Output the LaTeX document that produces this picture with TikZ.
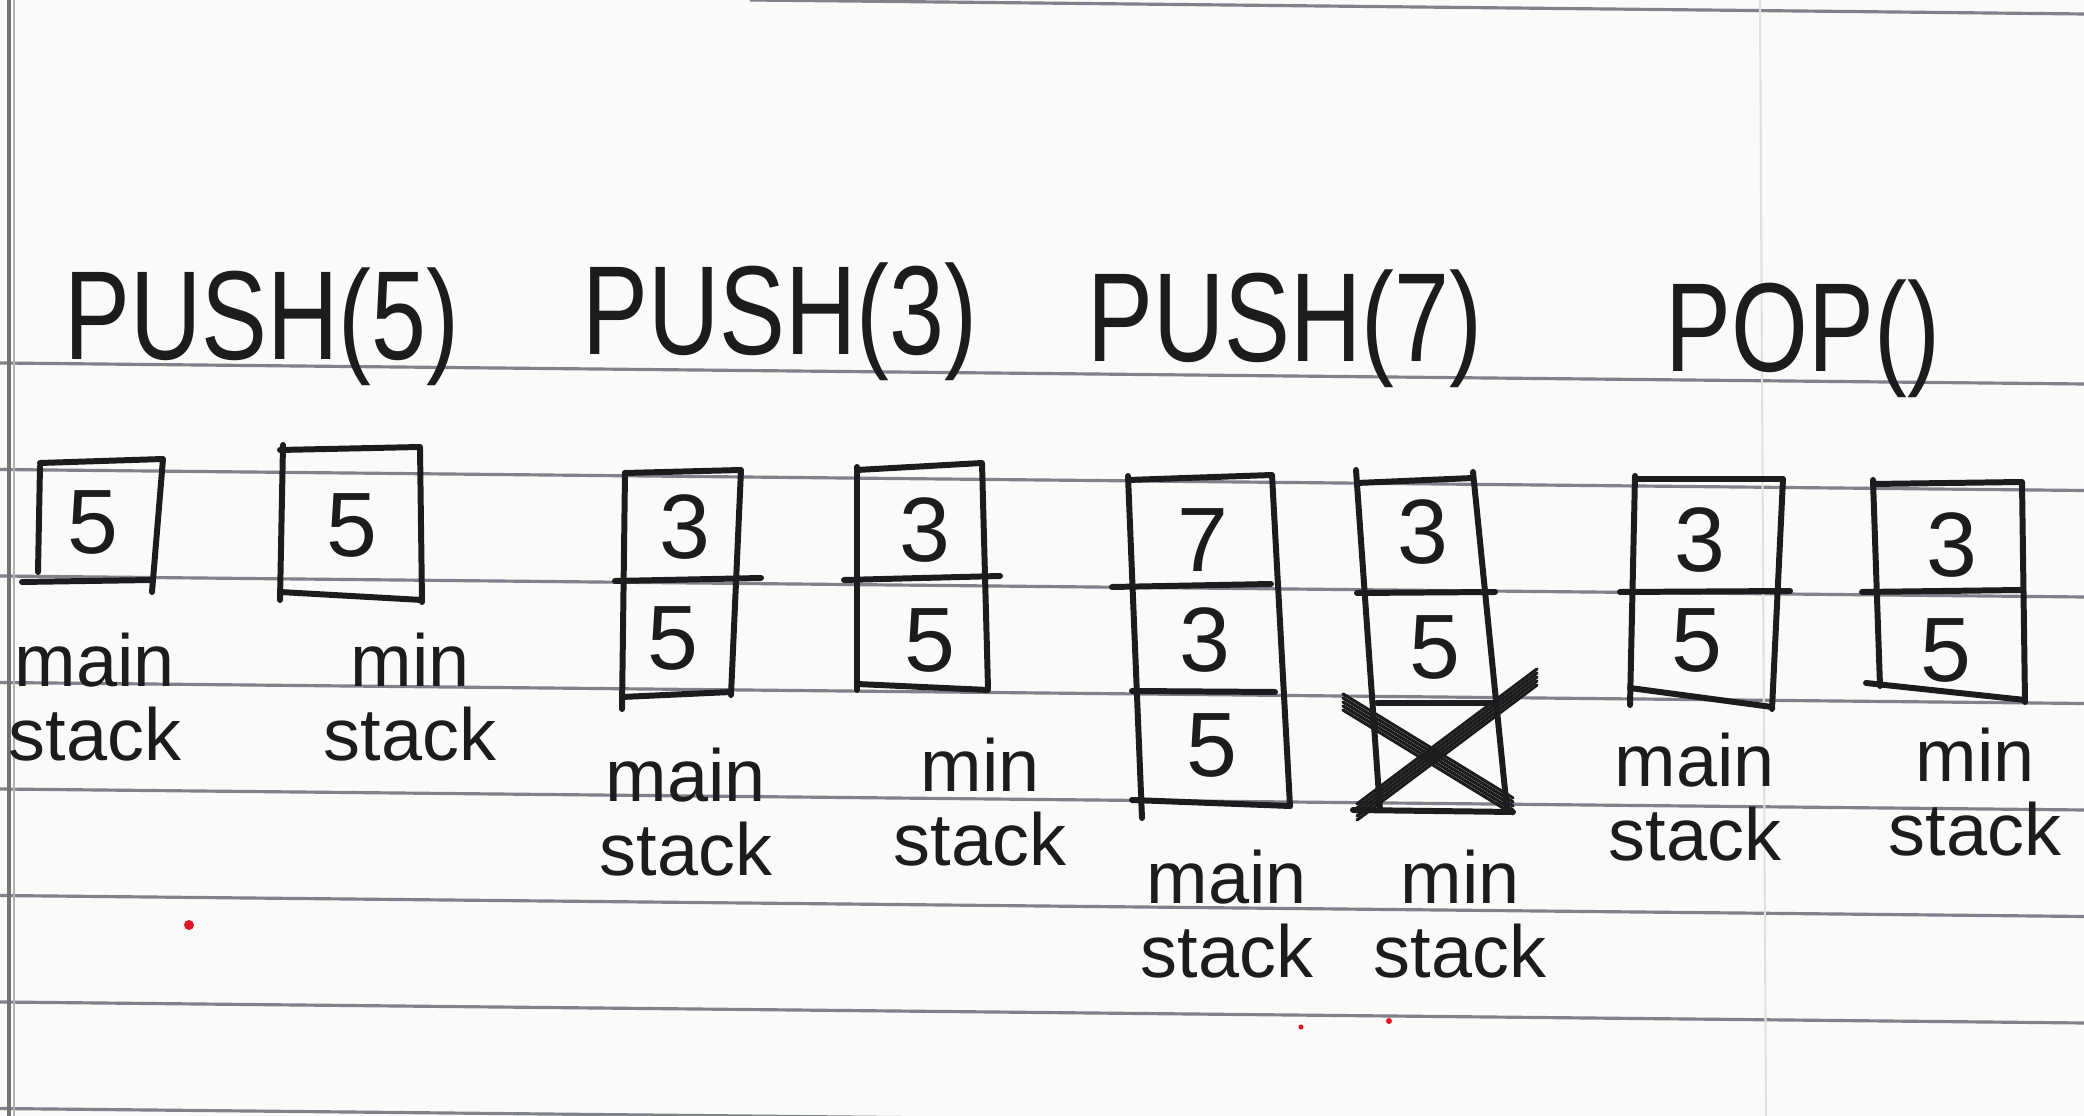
\documentclass[tikz,border=0pt]{standalone}
\usepackage{fontspec}
\setmainfont{Liberation Sans}
\usepackage{graphicx}
\usetikzlibrary{positioning}

\definecolor{paper}{RGB}{250,250,248}
\definecolor{rulegray}{RGB}{128,130,138}
\definecolor{inkc}{RGB}{28,28,30}
\definecolor{speck}{RGB}{225,20,40}

\begin{document}
\begin{tikzpicture}[
    x=0.01cm, y=-0.01cm,
    % Estilos de texto
    title/.style={font=\fontsize{36}{40}\selectfont, text=inkc, anchor=base, inner sep=0pt},
    digit/.style={font=\fontsize{26}{30}\selectfont, text=inkc, inner sep=0pt},
    caption/.style={font=\fontsize{21}{21}\selectfont, text=inkc, align=center, inner sep=0pt},
    % Estilos de lineas
    pen/.style={draw=inkc, line width=1.7pt, line cap=round, line join=round},
    scribble/.style={draw=inkc, line width=0.9pt, line cap=round},
    rule/.style={draw=rulegray, line width=0.9pt}
]
% --- PAPEL RAYADO ---
\fill[paper] (0,0) rectangle (2084,1116);
\useasboundingbox (0,0) rectangle (2084,1116);
\foreach \k in {0,...,7}
    \draw[rule] (0,{363+106.5*\k}) -- (2084,{384+106.5*\k});
\draw[rule] (750,0) -- (2084,14);
\draw[draw=black!12, line width=0.6pt] (1760,0) -- (1766,1116);
\draw[draw=black!55, line width=1.4pt] (9,0) -- (9,1116);
\draw[draw=black!30, line width=0.6pt] (14,0) -- (14,1116);

% --- PUSH(5) ---
\node[title] (t_push5) at (262,360) {\scalebox{0.78}[1]{PUSH(5)}};
% main stack
\draw[pen] (40,466) -- (38,572);
\draw[pen] (40,463) -- (163,459) -- (152,592);
\draw[pen] (22,582) -- (152,580);
\node[digit] (p5_main_a) at (93,522) {5};
\node[caption] (p5_main_cap) at (95,697) {main\\stack};
% min stack
\draw[pen] (283,445) -- (280,600);
\draw[pen] (280,450) -- (420,447) -- (422,602);
\draw[pen] (280,592) -- (422,600);
\node[digit] (p5_min_a) at (352,525) {5};
\node[caption] (p5_min_cap) at (410,697) {min\\stack};

% --- PUSH(3) ---
\node[title] (t_push3) at (780,355) {\scalebox{0.78}[1]{PUSH(3)}};
% main stack
\draw[pen] (625,473) -- (741,470) -- (731,695);
\draw[pen] (625,473) -- (622,709);
\draw[pen] (615,581) -- (761,578);
\draw[pen] (622,697) -- (731,692);
\node[digit] (p3_main_a) at (685,527) {3};
\node[digit] (p3_main_b) at (673,638) {5};
\node[caption] (p3_main_cap) at (686,812) {main\\stack};
% min stack
\draw[pen] (857,470) -- (982,463) -- (988,688);
\draw[pen] (857,467) -- (857,690);
\draw[pen] (844,580) -- (1000,576);
\draw[pen] (857,684) -- (988,690);
\node[digit] (p3_min_a) at (925,530) {3};
\node[digit] (p3_min_b) at (930,640) {5};
\node[caption] (p3_min_cap) at (980,802) {min\\stack};

% --- PUSH(7) ---
\node[title] (t_push7) at (1285,362) {\scalebox{0.78}[1]{PUSH(7)}};
% main stack
\draw[pen] (1128,480) -- (1272,475) -- (1290,806);
\draw[pen] (1128,476) -- (1142,818);
\draw[pen] (1112,587) -- (1271,584);
\draw[pen] (1132,691) -- (1275,692);
\draw[pen] (1132,800) -- (1290,806);
\node[digit] (p7_main_a) at (1203,540) {7};
\node[digit] (p7_main_b) at (1205,640) {3};
\node[digit] (p7_main_c) at (1212,745) {5};
\node[caption] (p7_main_cap) at (1227,914) {main\\stack};
% min stack (la celda de abajo tachada)
\draw[pen] (1356,470) -- (1380,810);
\draw[pen] (1357,483) -- (1473,478);
\draw[pen] (1473,472) -- (1507,810);
\draw[pen] (1357,593) -- (1495,592);
\draw[pen] (1377,703) -- (1493,703);
\draw[pen] (1353,810) -- (1513,812);
\foreach \d in {-9,-5,-1,3,7}{
    \draw[scribble] (1343,{703+\d}) -- (1513,{807+\d});
    \draw[scribble] (1357,{813+\d}) -- (1537,{678+\d});
}
\node[digit] (p7_min_a) at (1423,532) {3};
\node[digit] (p7_min_b) at (1435,647) {5};
\node[caption] (p7_min_cap) at (1460,914) {min\\stack};

% --- POP() ---
\node[title] (t_pop) at (1803,372) {\scalebox{0.78}[1]{POP()}};
% main stack
\draw[pen] (1637,479) -- (1783,479) -- (1772,709);
\draw[pen] (1635,476) -- (1630,705);
\draw[pen] (1620,592) -- (1790,591);
\draw[pen] (1630,688) -- (1772,707);
\node[digit] (pop_main_a) at (1700,540) {3};
\node[digit] (pop_main_b) at (1697,640) {5};
\node[caption] (pop_main_cap) at (1695,797) {main\\stack};
% min stack
\draw[pen] (1873,484) -- (2022,482) -- (2025,702);
\draw[pen] (1873,480) -- (1880,686);
\draw[pen] (1862,592) -- (2022,590);
\draw[pen] (1866,683) -- (2025,700);
\node[digit] (pop_min_a) at (1952,545) {3};
\node[digit] (pop_min_b) at (1946,650) {5};
\node[caption] (pop_min_cap) at (1975,792) {min\\stack};

% --- manchas rojas del papel ---
\fill[speck] (189,925) circle (0.5mm);
\fill[speck] (1301,1027) circle (0.25mm);
\fill[speck] (1389,1021) circle (0.3mm);
\end{tikzpicture}
\end{document}
